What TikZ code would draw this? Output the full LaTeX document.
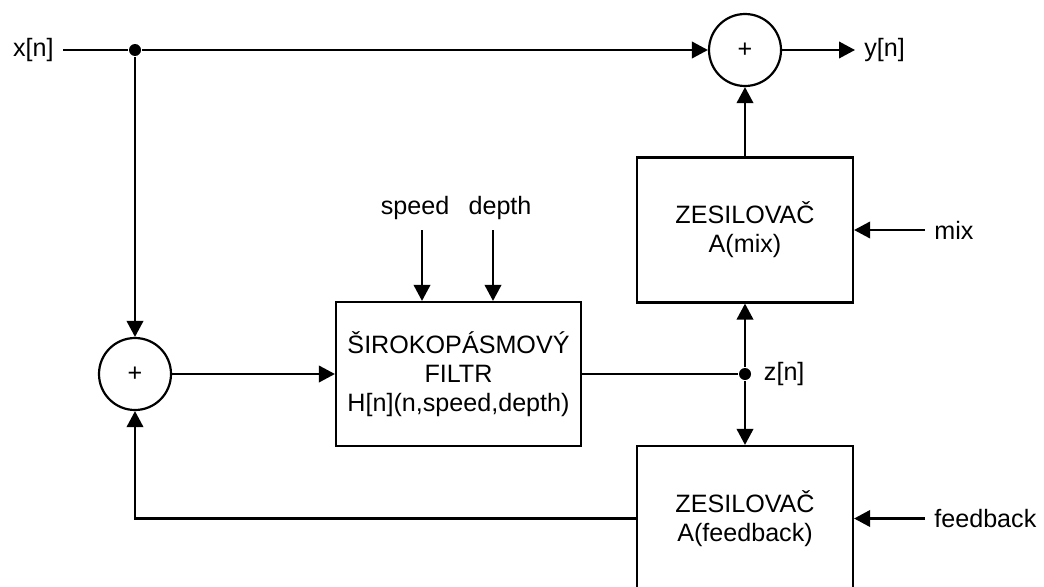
\documentclass[tikz,border=0pt]{standalone}
\usepackage{fontspec}
\setmainfont{Liberation Sans}
\usetikzlibrary{arrows.meta, positioning, calc}
\tikzset{
  every picture/.style={font=\fontsize{14.3}{16.6}\selectfont, line width=1.25pt},
  block/.style={draw, align=center, inner sep=4pt},
  summer/.style={draw, circle, minimum size=1.44cm, inner sep=0pt},
  dot/.style={circle, fill, inner sep=0pt, minimum size=0.24cm},
  arrow/.style={-{Triangle[length=3.2mm, width=3.3mm]}},
  lbl/.style={inner sep=4.7pt},
}
\begin{document}
\begin{tikzpicture}[amp/.style={block, minimum width=4.32cm, minimum height=2.9cm},
                    filter/.style={block, minimum width=4.9cm, minimum height=2.88cm}]
  \clip (0,0) rectangle (20.88,-11.72);
  \node[lbl, anchor=east] (xin) at (1.26,-1.0) {x[n]};
  \node[dot] (j1) at (2.7,-1.0) {};
  \node[summer] (sumtop) at (14.9,-1.0) {+};
  \node[lbl, anchor=west] (yout) at (17.1,-1.0) {y[n]};
  \node[summer] (sumleft) at (2.7,-7.48) {+};
  \node[filter] (filt) at (9.17,-7.48) {ŠIROKOPÁSMOVÝ\\FILTR\\H[n](n,speed,depth)};
  \node[lbl] (speed) at (8.3,-4.16) {speed};
  \node[lbl] (depth) at (10.0,-4.16) {depth};
  \coordinate (spin) at (8.44,-4.6);
  \coordinate (dpin) at (9.86,-4.6);
  \node[amp] (mixamp) at (14.9,-4.6) {ZESILOVAČ\\A(mix)};
  \node[lbl, anchor=west] (mix) at (18.5,-4.6) {mix};
  \node[dot] (zdot) at (14.9,-7.48) {};
  \node[lbl, right=0.05cm of zdot] (zlbl) {z[n]};
  \node[amp] (fbamp) at (14.9,-10.37) {ZESILOVAČ\\A(feedback)};
  \node[lbl, anchor=west] (fbin) at (18.5,-10.37) {feedback};
  % signal path
  \draw (xin.east) -- (j1);
  \draw (filt) -- (zdot);
  \foreach \a/\b in {j1/sumtop, j1/sumleft, sumleft/filt, zdot/mixamp, zdot/fbamp, mixamp/sumtop, sumtop/yout, mix/mixamp, fbin/fbamp} { \draw[arrow] (\a) -- (\b); }
  \draw[arrow] (spin) -- (spin |- filt.north);
  \draw[arrow] (dpin) -- (dpin |- filt.north);
  % feedback loop
  \draw[arrow] (fbamp.west) -| (sumleft.south);
\end{tikzpicture}
\end{document}
